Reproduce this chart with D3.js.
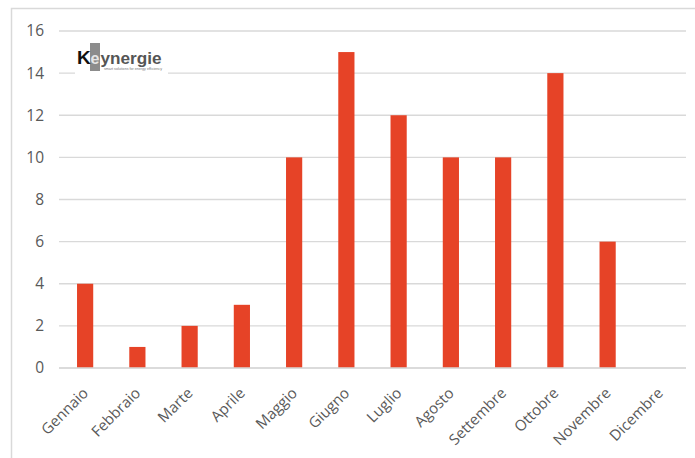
<!DOCTYPE html>
<html>
<head>
<meta charset="utf-8">
<script src="https://cdn.jsdelivr.net/npm/d3@7"></script>
<style>
  html, body { margin: 0; padding: 0; background: #fff; }
  svg { display: block; }
</style>
</head>
<body>
<svg id="chart" width="695" height="458"></svg>
<script>
// Monthly counts
const months = ["Gennaio", "Febbraio", "Marte", "Aprile", "Maggio", "Giugno",
                "Luglio", "Agosto", "Settembre", "Ottobre", "Novembre", "Dicembre"];
const counts = [4, 1, 2, 3, 10, 15, 12, 10, 10, 14, 6, 0];
const yTicks = [0, 2, 4, 6, 8, 10, 12, 14, 16];

const svg = d3.select("#chart");
const font = "'Open Sans', 'Noto Sans', sans-serif";
const textColor = "#595959";
const gridColor = "#d9d9d9";
const barColor = "#e64327";

// Outer frame
svg.append("rect")
  .attr("x", 11.5).attr("y", 8.5)
  .attr("width", 700).attr("height", 470)
  .attr("fill", "#fff")
  .attr("stroke", "#d9d9d9").attr("stroke-width", 1.5);

const plot = { left: 59, right: 686, top: 31, bottom: 368 };

const x = d3.scaleBand()
  .domain(months)
  .range([plot.left, plot.right])
  .paddingInner(0.69).paddingOuter(0.345);

const y = d3.scaleLinear()
  .domain([0, 16])
  .range([plot.bottom, plot.top]);

// Gridlines
svg.append("g")
  .selectAll("line")
  .data(yTicks)
  .join("line")
  .attr("x1", plot.left).attr("x2", plot.right)
  .attr("y1", d => y(d)).attr("y2", d => y(d))
  .attr("stroke", gridColor).attr("stroke-width", 1.3);

// Y axis labels
const yAxis = svg.append("g")
  .attr("transform", `translate(${plot.left - 15},0)`)
  .call(d3.axisLeft(y).tickValues(yTicks).tickSize(0).tickPadding(0));
yAxis.select(".domain").remove();
yAxis.selectAll("text")
  .attr("font-family", font).attr("font-size", 15.5)
  .attr("fill", textColor);

// Bars
svg.append("g")
  .selectAll("rect")
  .data(months.map((m, i) => ({ m, v: counts[i] })))
  .join("rect")
  .attr("x", d => x(d.m))
  .attr("width", x.bandwidth())
  .attr("y", d => y(d.v))
  .attr("height", d => y(0) - y(d.v))
  .attr("fill", barColor);

// Baseline
svg.append("line")
  .attr("x1", plot.left).attr("x2", plot.right)
  .attr("y1", y(0)).attr("y2", y(0))
  .attr("stroke", gridColor).attr("stroke-width", 1.3);

// X axis labels, rotated
const xAxis = svg.append("g")
  .attr("transform", `translate(0,${plot.bottom})`)
  .call(d3.axisBottom(x).tickSize(0).tickPadding(0));
xAxis.select(".domain").remove();
xAxis.selectAll("text")
  .attr("font-family", font).attr("font-size", 15)
  .attr("fill", textColor)
  .attr("text-anchor", "end")
  .attr("dy", "0")
  .attr("transform", "translate(4,26) rotate(-45)");

// Logo with white backing over the gridline
const logo = svg.append("g");
const logoFont = "'Liberation Sans', Arial, sans-serif";
logo.append("rect")
  .attr("x", 75).attr("y", 40).attr("width", 93).attr("height", 35)
  .attr("fill", "#fff");
logo.append("rect")
  .attr("x", 90).attr("y", 43).attr("width", 10).attr("height", 28)
  .attr("fill", "#8c8c8c");
logo.append("text")
  .attr("x", 77).attr("y", 64)
  .attr("font-family", logoFont)
  .attr("font-weight", "bold").attr("font-size", 19)
  .attr("fill", "#111").text("K");
logo.append("text")
  .attr("x", 90.5).attr("y", 64)
  .attr("font-family", logoFont)
  .attr("font-weight", "bold").attr("font-size", 16)
  .attr("fill", "#e6e6e6").text("e");
logo.append("text")
  .attr("x", 100.5).attr("y", 64)
  .attr("font-family", logoFont)
  .attr("font-weight", "bold").attr("font-size", 17)
  .attr("textLength", 61).attr("lengthAdjust", "spacingAndGlyphs")
  .attr("fill", "#555").text("ynergie");
logo.append("text")
  .attr("x", 104).attr("y", 70)
  .attr("font-family", logoFont)
  .attr("font-size", 3.2)
  .attr("textLength", 58).attr("lengthAdjust", "spacingAndGlyphs")
  .attr("fill", "#777").text("smart solutions for energy efficiency");
</script>
</body>
</html>
